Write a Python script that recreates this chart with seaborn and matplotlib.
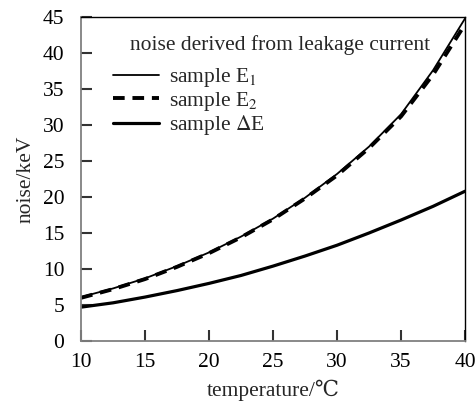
import matplotlib
matplotlib.use("Agg")
import matplotlib.pyplot as plt
import pandas as pd
import seaborn as sns

# values
temperature = [10, 12.5, 15, 17.5, 20, 22.5, 25, 27.5, 30, 32.5, 35, 37.5, 40]
noise_e1 = [6.1, 7.3, 8.7, 10.4, 12.3, 14.5, 17.0, 19.9, 23.2, 27.0, 31.5, 37.6, 44.8]
noise_e2 = [6.0, 7.2, 8.6, 10.3, 12.2, 14.4, 16.9, 19.8, 23.0, 26.8, 31.2, 37.0, 44.0]
noise_de = [4.7, 5.3, 6.1, 7.0, 8.0, 9.1, 10.4, 11.8, 13.3, 15.0, 16.8, 18.7, 20.8]

sns.set_style("ticks")
plt.rcParams["font.family"] = ["Liberation Serif", "DejaVu Serif"]
plt.rcParams["mathtext.fontset"] = "stix"

df = pd.DataFrame({"t": temperature, "e1": noise_e1, "e2": noise_e2, "de": noise_de})

fig = plt.figure(figsize=(4.77, 4.04), dpi=100)
ax = fig.add_axes([0.170, 0.156, 0.805, 0.802])

sns.lineplot(data=df, x="t", y="e1", ax=ax, color="black", lw=1.3,
             label=r"sample E$_1$")
sns.lineplot(data=df, x="t", y="e2", ax=ax, color="black", lw=2.8,
             linestyle=(0, (3, 2)), label=r"sample E$_2$")
sns.lineplot(data=df, x="t", y="de", ax=ax, color="black", lw=2.3,
             label=r"sample $\Delta$E")

ax.set_xlim(10, 40)
ax.set_ylim(0, 45)
ax.set_xticks(range(10, 41, 5))
ax.set_yticks(range(0, 46, 5))
ax.tick_params(which="major", direction="in", length=8, width=1.5,
               color="#333333", labelcolor="black", labelsize=15.5,
               bottom=True, left=True, top=False, right=False)
ax.tick_params(axis="x", pad=9)
ax.tick_params(axis="y", pad=12)
for side in ["left", "bottom"]:
    ax.spines[side].set_color("#808080")
    ax.spines[side].set_linewidth(1.3)
for side in ["top", "right"]:
    ax.spines[side].set_visible(True)
    ax.spines[side].set_color("black")
    ax.spines[side].set_linewidth(1)

ax.set_xlabel("temperature/℃", fontsize=15.5, labelpad=5)
ax.set_ylabel("noise/keV", fontsize=15.5, labelpad=5)

leg = ax.legend(title="noise derived from leakage current", loc="upper left",
                frameon=False, fontsize=15.5, title_fontsize=15.5,
                handlelength=2.1, handletextpad=0.5, labelspacing=0.02,
                bbox_to_anchor=(0.045, 0.99), borderaxespad=0.3)
leg._legend_box.align = "left"
leg._legend_box.sep = 8
leg.get_title().set_position((17, 0))

fig.savefig("out.png", dpi=100)
